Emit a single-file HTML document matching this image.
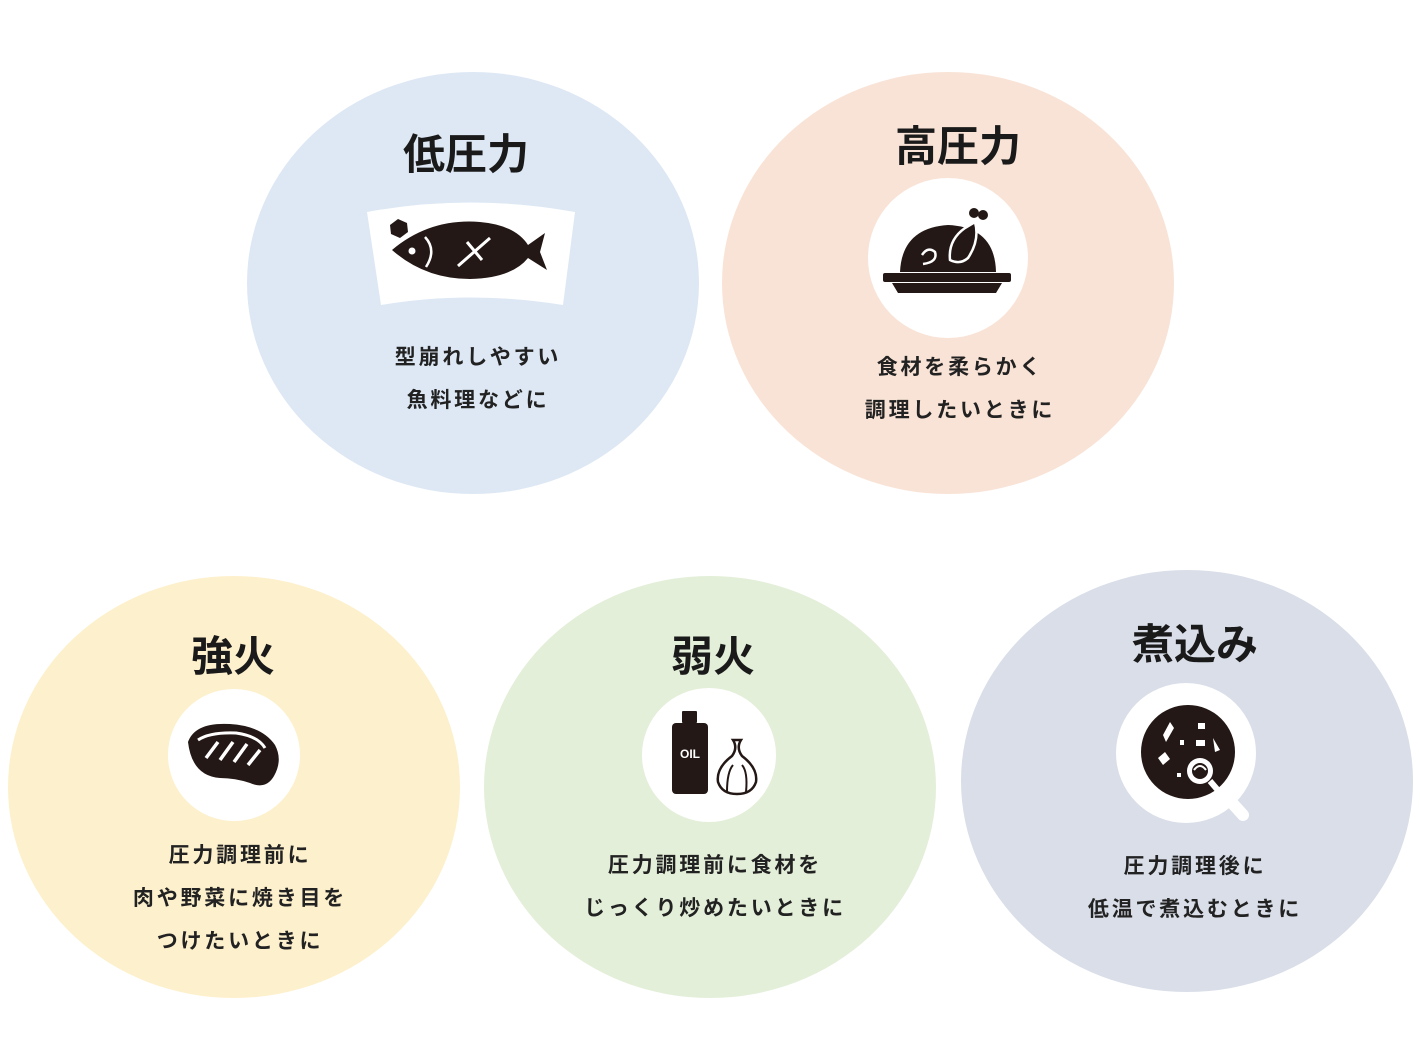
<!DOCTYPE html>
<html><head><meta charset="utf-8"><style>
body{margin:0;width:1420px;height:1050px;background:#fff;overflow:hidden;position:relative;font-family:"Liberation Sans","Noto Sans CJK JP",sans-serif;color:#1a1a1a}
.t{position:absolute;font-weight:bold;font-size:42px;transform:translateX(-50%);white-space:nowrap;line-height:1}
.d{position:absolute;font-weight:bold;font-size:21px;transform:translateX(-50%);white-space:nowrap;text-align:center;line-height:43px;letter-spacing:2.8px;color:#222}
svg{position:absolute;left:0;top:0}
</style></head><body>
<svg width="1420" height="1050" viewBox="0 0 1420 1050">
<ellipse cx="473" cy="283" rx="226" ry="211" fill="#dde8f4"/>
<ellipse cx="948" cy="283" rx="226" ry="211" fill="#f9e3d6"/>
<ellipse cx="234" cy="787" rx="226" ry="211" fill="#fdf0cc"/>
<ellipse cx="710" cy="787" rx="226" ry="211" fill="#e3efd9"/>
<ellipse cx="1187" cy="781" rx="226" ry="211" fill="#d9dee8"/>
<!-- fish banner -->
<path d="M367 212 Q470 193 575 212 L563 305 Q470 290 381 305 Z" fill="#fff"/>
<g fill="#231815">
<polygon points="390,225 398,219 407,223 408,232 400,238 391,234"/>
<path d="M392 250 Q430 218 480 222 Q515 225 528 245 L545 233 L540 252 L547 270 L528 258 Q512 278 470 279 Q425 279 392 250 Z"/>
</g>
<circle cx="412" cy="251" r="3.5" fill="#fff"/>
<path d="M425 237 Q437 250 426 267" stroke="#fff" stroke-width="2.5" fill="none"/>
<path d="M458 266 L490 238 M467 242 L482 260" stroke="#fff" stroke-width="3" fill="none"/>
<!-- chicken -->
<circle cx="948" cy="258" r="80" fill="#fff"/>
<g fill="#231815">
<path d="M900 272 Q902 228 948 225 Q995 227 996 272 Z"/>
<rect x="883" y="273" width="128" height="9" rx="2"/>
<path d="M892 283 L1002 283 L996 293 L898 293 Z"/>
<circle cx="974" cy="213" r="5"/><circle cx="983" cy="215" r="5"/>
</g>
<path d="M950 260 Q948 240 965 228 L975 222 Q980 240 968 258 Q960 265 950 260 Z" stroke="#fff" stroke-width="2.5" fill="#231815"/>
<path d="M922 255 Q928 246 935 252 Q938 262 923 264" stroke="#fff" stroke-width="2.5" fill="none"/>
<!-- steak -->
<circle cx="234" cy="755" r="66" fill="#fff"/>
<path d="M188 742 Q195 722 230 724 Q262 726 275 745 Q283 760 274 776 Q266 790 250 783 Q235 778 220 778 Q192 776 188 742 Z" fill="#231815"/>
<path d="M198 740 Q210 732 236 733 Q258 736 265 748" stroke="#fff" stroke-width="3" fill="none"/>
<path d="M206 758 L218 742 M220 760 L233 742 M234 762 L247 744 M248 765 L260 750" stroke="#fff" stroke-width="3.5" fill="none"/>
<!-- oil garlic -->
<circle cx="709" cy="755" r="67" fill="#fff"/>
<g fill="#231815">
<rect x="682" y="711" width="15" height="12" rx="1"/>
<rect x="672" y="723" width="36" height="71" rx="4"/>
</g>
<text x="690" y="758" font-size="12" font-weight="bold" fill="#fff" text-anchor="middle" font-family="Liberation Sans">OIL</text>
<path d="M733 740 Q738 748 732 756 Q716 768 718 782 Q722 794 737 794 Q752 794 756 782 Q758 768 742 756 Q736 748 741 740 Z" stroke="#231815" stroke-width="2.5" fill="#fff"/>
<path d="M727 792 Q727 772 733 765 M746 792 Q748 772 742 765" stroke="#231815" stroke-width="2" fill="none"/>
<!-- stew -->
<circle cx="1186" cy="753" r="70" fill="#fff"/>
<path d="M1225 795 L1243 815" stroke="#fff" stroke-width="12" stroke-linecap="round"/>
<circle cx="1188" cy="752" r="47" fill="#231815"/>
<g fill="#fff">
<path d="M1163 735 L1170 722 L1174 728 L1166 742 Z"/>
<rect x="1198" y="723" width="7" height="6"/><rect x="1196" y="740" width="9" height="6"/>
<rect x="1180" y="740" width="4" height="5"/>
<path d="M1213 738 L1220 750 L1215 752 Z"/>
<polygon points="1158,758 1165,752 1170,759 1163,765"/>
<rect x="1177" y="773" width="4" height="4"/>
</g>
<circle cx="1200" cy="771" r="13" fill="#fff"/>
<circle cx="1200" cy="771" r="8" fill="#231815"/>
<path d="M1194 770 Q1200 762 1206 770" stroke="#fff" stroke-width="2" fill="none"/>
<path d="M1210 781 L1222 795" stroke="#fff" stroke-width="6"/>
</svg>
<div class="t" style="left:466px;top:134px">低圧力</div>
<div class="d" style="left:478px;top:336px">型崩れしやすい<br>魚料理などに</div>
<div class="t" style="left:958px;top:126px">高圧力</div>
<div class="d" style="left:960px;top:346px">食材を柔らかく<br>調理したいときに</div>
<div class="t" style="left:233px;top:636px">強火</div>
<div class="d" style="left:240px;top:834px">圧力調理前に<br>肉や野菜に焼き目を<br>つけたいときに</div>
<div class="t" style="left:713px;top:636px">弱火</div>
<div class="d" style="left:715px;top:844px">圧力調理前に食材を<br>じっくり炒めたいときに</div>
<div class="t" style="left:1195px;top:624px">煮込み</div>
<div class="d" style="left:1195px;top:845px">圧力調理後に<br>低温で煮込むときに</div>
</body></html>
